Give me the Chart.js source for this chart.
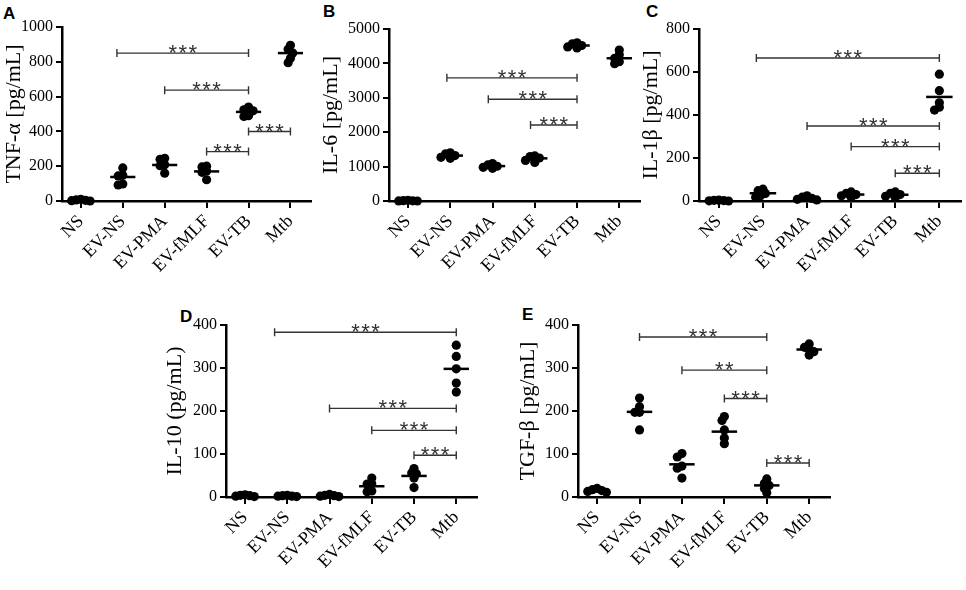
<!DOCTYPE html>
<html>
<head>
<meta charset="utf-8">
<script src="https://cdn.jsdelivr.net/npm/chart.js@4.4.1/dist/chart.umd.min.js"></script>
<style>
  body { margin: 0; background: #fff; width: 966px; height: 590px; position: relative; overflow: hidden; }
  .panel { position: absolute; }
  .letter { position: absolute; font: bold 17px "Liberation Sans", Arial, sans-serif; line-height: 1; color: #000; }
  .probe { position: absolute; left: -999px; top: 0; font: 16px "Liberation Serif"; }
</style>
</head>
<body>
<div class="probe">TNF-α 1000</div>
<div class="letter" style="left:3px;top:5px">A</div>
<div class="letter" style="left:323px;top:3px">B</div>
<div class="letter" style="left:646px;top:3px">C</div>
<div class="letter" style="left:180px;top:308px">D</div>
<div class="letter" style="left:522px;top:306px">E</div>

<canvas class="panel" id="cA" width="315" height="290" style="left:1px;top:0"></canvas>
<canvas class="panel" id="cB" width="327" height="290" style="left:318px;top:0"></canvas>
<canvas class="panel" id="cC" width="328" height="290" style="left:638px;top:0"></canvas>
<canvas class="panel" id="cD" width="320" height="300" style="left:162px;top:290px"></canvas>
<canvas class="panel" id="cE" width="320" height="300" style="left:515px;top:290px"></canvas>

<script>
const categories = ["NS", "EV-NS", "EV-PMA", "EV-fMLF", "EV-TB", "Mtb"];

// five donors per group
const tnfValues = [
  [10, 6, 4, 2, 0],
  [190, 148, 144, 98, 92],
  [245, 240, 208, 203, 160],
  [200, 196, 172, 165, 122],
  [540, 524, 518, 490, 486],
  [895, 872, 850, 820, 795]
];
const tnfMeans = [4, 138, 207, 170, 512, 850];
const tnfBrackets = [[0.86, 4, 850, "***"], [2, 4, 637, "***"], [3, 4, 284, "***"], [4, 5, 399, "***"]];

const il6Values = [
  [20, 10, 5, 3, 0],
  [1400, 1370, 1320, 1270, 1240],
  [1090, 1050, 1010, 980, 950],
  [1310, 1290, 1250, 1180, 1120],
  [4600, 4570, 4520, 4480, 4450],
  [4390, 4250, 4150, 4050, 3990]
];
const il6Means = [8, 1320, 1015, 1240, 4520, 4150];
const il6Brackets = [[0.92, 4, 3580, "***"], [1.9, 4, 2960, "***"], [2.9, 4, 2210, "***"]];

const il1bValues = [
  [4, 3, 2, 1, 0],
  [55, 48, 35, 25, 18],
  [24, 18, 12, 8, 5],
  [42, 36, 30, 24, 18],
  [42, 36, 30, 22, 16],
  [590, 513, 457, 436, 423]
];
const il1bMeans = [2, 36, 13, 30, 29, 484];
const il1bBrackets = [[0.85, 5, 665, "***"], [2, 5, 349, "***"], [3, 5, 253, "***"], [4, 5, 129, "***"]];

const il10Values = [
  [5, 4, 3, 2, 1],
  [4, 3, 2, 2, 1],
  [6, 4, 3, 2, 1],
  [44, 31, 30, 14, 12],
  [66, 56, 54, 44, 22],
  [353, 327, 298, 265, 244]
];
const il10Means = [2, 2, 3, 25, 49, 298];
const il10Brackets = [[0.7, 5, 383, "***"], [2, 5, 206, "***"], [3, 5, 155, "***"], [4, 5, 97, "***"]];

const tgfValues = [
  [20, 17, 15, 13, 11],
  [230, 210, 197, 197, 156],
  [101, 93, 72, 67, 44],
  [187, 178, 156, 137, 124],
  [42, 32, 27, 20, 10],
  [356, 348, 343, 338, 330]
];
const tgfMeans = [15, 198, 76, 152, 27, 343];
const tgfBrackets = [[1, 4, 372, "***"], [2, 4, 295, "**"], [3, 4, 229, "***"], [4, 5, 79, "***"]];

const serif = '"Liberation Serif", "Times New Roman", "DejaVu Serif", serif';

// spread points of one group sideways, like a prism scatter dot plot
function swarm(vals, yMax) {
  const step = 0.055, minDist = 4.5, plotH = 173, catW = 43;
  const placed = [];
  return vals.map(v => {
    let off = 0;
    for (let k = 0; k < 15; k++) {
      off = k === 0 ? 0 : (k % 2 ? -1 : 1) * Math.ceil(k / 2) * step;
      const clash = placed.some(p => {
        const dx = (off - p.off) * catW, dy = (v - p.v) * plotH / yMax;
        return Math.sqrt(dx * dx + dy * dy) < minDist;
      });
      if (!clash) break;
    }
    placed.push({ v, off });
    return off;
  });
}

function makePanel(id, p) {
  const dots = [];
  p.values.forEach((group, i) => {
    const offs = swarm(group, p.yMax);
    group.forEach((v, j) => dots.push({ x: i + offs[j], y: v }));
  });

  const datasets = [{
    data: dots,
    backgroundColor: "#000",
    borderWidth: 0,
    pointRadius: 4.6,
    clip: false
  }];
  p.means.forEach((m, i) => {
    datasets.push({
      data: [{ x: i - 0.3, y: m }, { x: i + 0.3, y: m }],
      showLine: true,
      borderColor: "#000",
      borderWidth: 2.5,
      pointRadius: 0,
      clip: false
    });
  });

  const bracketPlugin = {
    id: "brackets",
    afterDatasetsDraw(chart) {
      const { ctx, scales: { x, y } } = chart;
      ctx.save();
      ctx.strokeStyle = "#333";
      ctx.fillStyle = "#333";
      ctx.lineWidth = 1.4;
      p.brackets.forEach(([from, to, level, label]) => {
        const x1 = x.getPixelForValue(from), x2 = x.getPixelForValue(to);
        const yy = y.getPixelForValue(level);
        ctx.beginPath();
        ctx.moveTo(x1, yy); ctx.lineTo(x2, yy);
        ctx.moveTo(x1, yy - 4); ctx.lineTo(x1, yy + 4);
        ctx.moveTo(x2, yy - 4); ctx.lineTo(x2, yy + 4);
        ctx.stroke();
        ctx.font = '22px "Liberation Sans", Arial, sans-serif';
        ctx.textAlign = "center";
        ctx.textBaseline = "alphabetic";
        const cx = (x1 + x2) / 2, n = label.length;
        for (let k = 0; k < n; k++) {
          ctx.fillText("*", cx + (k - (n - 1) / 2) * 10, yy + 7);
        }
      });
      ctx.restore();
    }
  };

  new Chart(document.getElementById(id), {
    type: "scatter",
    data: { datasets },
    options: {
      responsive: false,
      animation: false,
      layout: { padding: { top: p.padTop, right: 0, bottom: 0, left: 0 } },
      plugins: { legend: { display: false }, tooltip: { enabled: false } },
      scales: {
        x: {
          type: "linear",
          min: -0.45,
          max: 5.5,
          afterBuildTicks: s => { s.ticks = categories.map((c, i) => ({ value: i })); },
          afterFit: s => { s.height = p.xHeight; },
          ticks: {
            callback: v => categories[v],
            autoSkip: false,
            minRotation: 45,
            maxRotation: 45,
            color: "#000",
            padding: 3,
            font: { family: serif, size: 18 }
          },
          grid: { drawOnChartArea: false, drawTicks: true, tickLength: 7, color: "#000", lineWidth: 2 },
          border: { color: "#000", width: 2.5 }
        },
        y: {
          min: 0,
          max: p.yMax,
          afterFit: s => { s.width = p.yWidth; },
          ticks: {
            stepSize: p.yStep,
            callback: v => String(v),
            color: "#000",
            padding: 3,
            font: { family: serif, size: 16 }
          },
          grid: { drawOnChartArea: false, drawTicks: true, tickLength: 6, color: "#000", lineWidth: 2 },
          border: { color: "#000", width: 2.5 },
          title: {
            display: true,
            text: p.title,
            color: "#000",
            padding: 0,
            font: { family: serif, size: 22 }
          }
        }
      }
    },
    plugins: [bracketPlugin]
  });
}

function drawAll() {
  makePanel("cA", { values: tnfValues, means: tnfMeans, brackets: tnfBrackets, yMax: 1000, yStep: 200,
    title: "TNF-α [pg/mL]", padTop: 27, xHeight: 89, yWidth: 61 });
  makePanel("cB", { values: il6Values, means: il6Means, brackets: il6Brackets, yMax: 5000, yStep: 1000,
    title: "IL-6 [pg/mL]", padTop: 29, xHeight: 89, yWidth: 71 });
  makePanel("cC", { values: il1bValues, means: il1bMeans, brackets: il1bBrackets, yMax: 800, yStep: 200,
    title: "IL-1β [pg/mL]", padTop: 29, xHeight: 89, yWidth: 61 });
  makePanel("cD", { values: il10Values, means: il10Means, brackets: il10Brackets, yMax: 400, yStep: 100,
    title: "IL-10 (pg/mL)", padTop: 35, xHeight: 93, yWidth: 64 });
  makePanel("cE", { values: tgfValues, means: tgfMeans, brackets: tgfBrackets, yMax: 400, yStep: 100,
    title: "TGF-β [pg/mL]", padTop: 35, xHeight: 93, yWidth: 63 });
}

document.fonts.load('16px "Liberation Serif"').then(drawAll, drawAll);
</script>
</body>
</html>
